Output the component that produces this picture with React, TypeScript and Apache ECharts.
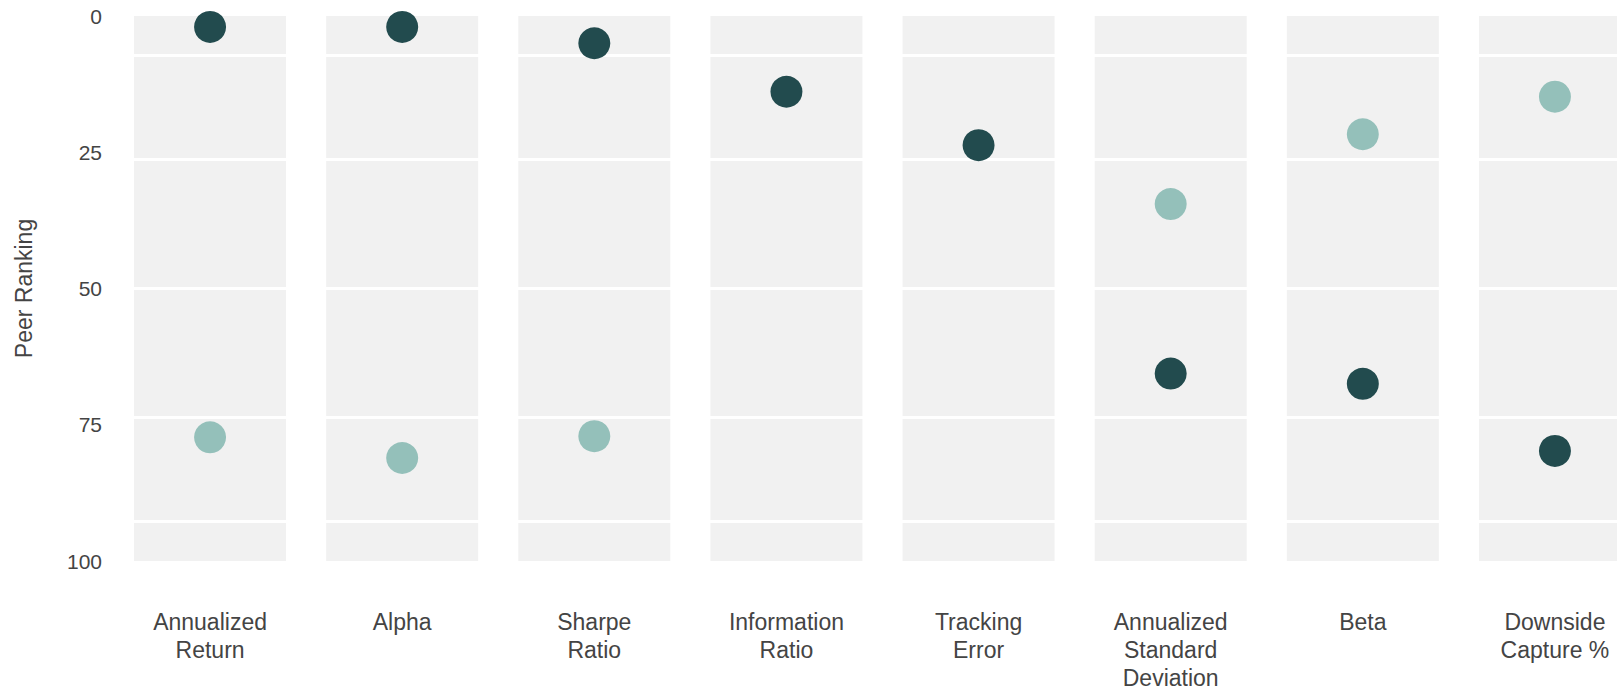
import React, { useEffect, useRef } from "react";
import * as echarts from "echarts";

const categories = [
  "Annualized\nReturn",
  "Alpha",
  "Sharpe\nRatio",
  "Information\nRatio",
  "Tracking\nError",
  "Annualized\nStandard\nDeviation",
  "Beta",
  "Downside\nCapture %",
];
const fundRank: (number | null)[] = [2, 2, 5, 13.9, 23.7, 65.6, 67.5, 79.8];
const peerRank: (number | null)[] = [77.3, 81.1, 77.1, null, null, 34.5, 21.7, 14.8];
const bandBreaks = [7.2, 26.2, 50, 73.6, 92.7];
const bandFull = [100, 100, 100, 100, 100, 100, 100, 100];

const FONT = "'Liberation Sans', Arial, Helvetica, sans-serif";

export default function App() {
  const ref = useRef<HTMLDivElement>(null);
  useEffect(() => {
    if (!ref.current) return;
    const chart = echarts.init(ref.current, undefined, { renderer: "svg" });
    chart.setOption({
      animation: false,
      grid: {
        left: 114,
        top: 16,
        width: 1537,
        height: 545,
        containLabel: false,
        outerBoundsMode: "none",
      },
      xAxis: {
        type: "category",
        data: categories,
        axisLine: { show: false },
        axisTick: { show: false },
        splitLine: { show: false },
        axisLabel: {
          interval: 0,
          margin: 47,
          fontSize: 23,
          lineHeight: 28,
          color: "#444",
          fontFamily: FONT,
        },
      },
      yAxis: {
        type: "value",
        inverse: true,
        min: 0,
        max: 100,
        interval: 25,
        axisLine: { show: false },
        axisTick: { show: false },
        splitLine: { show: false },
        axisLabel: { margin: 12, fontSize: 21, color: "#444", fontFamily: FONT },
        name: "Peer Ranking",
        nameLocation: "middle",
        nameGap: 79,
        nameTextStyle: { fontSize: 23, color: "#444", fontFamily: FONT },
      },
      series: [
        {
          type: "bar",
          data: bandFull,
          barWidth: 152,
          silent: true,
          itemStyle: { color: "#F1F1F1" },
          z: 1,
          markLine: {
            silent: true,
            z: 2,
            symbol: "none",
            label: { show: false },
            lineStyle: { color: "#ffffff", width: 3, type: "solid" },
            data: bandBreaks.map((v) => ({ yAxis: v })),
          },
        },
        {
          type: "scatter",
          name: "Peer Group",
          data: peerRank,
          symbolSize: 32,
          itemStyle: { color: "#94C0BA", opacity: 1 },
          z: 5,
        },
        {
          type: "scatter",
          name: "Fund",
          data: fundRank,
          symbolSize: 32,
          itemStyle: { color: "#224B4E", opacity: 1 },
          z: 6,
        },
      ],
    });
    return () => chart.dispose();
  }, []);
  return (
    <div
      ref={ref}
      style={{ position: "fixed", left: 0, top: 0, width: 1617, height: 691, background: "#fff" }}
    />
  );
}
